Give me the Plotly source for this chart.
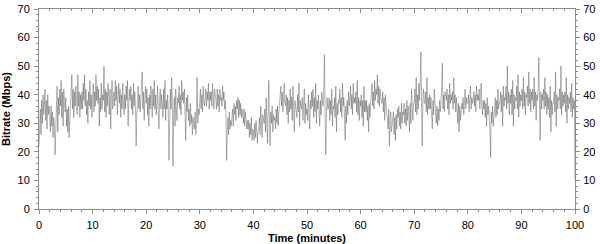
import plotly.graph_objects as go

# Bitrate samples, 8 per minute (0.125-minute spacing)
bitrate_by_minute = [
    [22, 28, 35, 26, 38, 30, 40, 33], [37, 42, 31, 38, 28, 40, 33, 36],
    [33, 27, 36, 29, 34, 25, 32, 30], [19, 29, 38, 43, 27, 39, 33, 42],
    [36, 45, 32, 41, 29, 42, 37, 34], [39, 29, 35, 27, 36, 25, 31, 37],
    [37, 47, 35, 42, 32, 41, 36, 43], [38, 33, 47, 36, 41, 32, 40, 35],
    [41, 35, 44, 38, 47, 36, 42, 33], [38, 30, 41, 36, 45, 35, 40, 32],
    [39, 44, 34, 41, 36, 47, 38, 43], [37, 42, 29, 39, 34, 44, 35, 40],
    [38, 50, 34, 42, 32, 41, 36, 44], [39, 33, 42, 28, 38, 45, 35, 40],
    [41, 36, 45, 38, 43, 33, 40, 44], [37, 42, 32, 40, 35, 44, 38, 33],
    [40, 35, 43, 38, 45, 29, 37, 42], [38, 43, 35, 40, 33, 44, 36, 41],
    [35, 22, 33, 39, 43, 35, 40, 34], [37, 43, 48, 35, 41, 31, 38, 43],
    [37, 42, 33, 39, 29, 40, 35, 43], [38, 32, 42, 36, 45, 35, 40, 33],
    [37, 43, 34, 28, 38, 42, 35, 40], [37, 32, 42, 35, 45, 31, 38, 35],
    [40, 34, 17, 37, 42, 35, 46, 38], [15, 33, 39, 29, 42, 35, 31, 39],
    [37, 43, 35, 40, 33, 45, 38, 41], [37, 42, 33, 24, 39, 34, 40, 31],
    [35, 29, 37, 30, 33, 26, 32, 29], [28, 34, 26, 32, 46, 30, 35, 33],
    [37, 42, 35, 40, 34, 43, 38, 36], [39, 42, 36, 41, 38, 44, 35, 41],
    [38, 41, 36, 44, 39, 35, 42, 38], [38, 35, 42, 36, 40, 34, 42, 38],
    [39, 36, 43, 38, 41, 35, 38, 33], [17, 27, 32, 26, 34, 28, 31, 29],
    [31, 35, 29, 37, 33, 36, 31, 38], [35, 39, 32, 38, 33, 37, 32, 35],
    [33, 30, 35, 29, 34, 31, 28, 31], [28, 31, 25, 30, 26, 32, 24, 28],
    [27, 24, 30, 25, 31, 27, 23, 28], [28, 32, 26, 36, 29, 25, 33, 30],
    [30, 35, 27, 39, 31, 23, 34, 45], [29, 22, 34, 30, 36, 27, 33, 31],
    [32, 28, 35, 30, 36, 29, 34, 37], [38, 43, 36, 41, 34, 40, 44, 37],
    [36, 40, 33, 39, 30, 38, 34, 42], [35, 39, 31, 43, 33, 27, 38, 36],
    [36, 32, 40, 34, 44, 29, 38, 35], [35, 39, 31, 37, 42, 30, 37, 33],
    [35, 31, 40, 34, 28, 38, 35, 41], [36, 42, 32, 39, 34, 44, 30, 38],
    [35, 40, 32, 29, 38, 33, 41, 36], [36, 41, 54, 34, 19, 32, 39, 35],
    [35, 39, 31, 38, 33, 42, 29, 36], [35, 39, 32, 43, 27, 37, 33, 38],
    [37, 42, 34, 39, 32, 44, 36, 39], [33, 24, 36, 30, 38, 33, 41, 36],
    [38, 43, 35, 40, 33, 44, 37, 39], [37, 41, 34, 45, 33, 39, 31, 38],
    [36, 40, 32, 38, 29, 43, 34, 38], [34, 38, 31, 36, 27, 37, 32, 38],
    [39, 44, 36, 41, 35, 45, 38, 42], [40, 47, 37, 43, 36, 42, 39, 38],
    [37, 41, 34, 39, 31, 40, 35, 33], [32, 28, 35, 22, 31, 34, 27, 30],
    [30, 34, 26, 32, 24, 33, 28, 35], [32, 36, 29, 34, 28, 37, 30, 34],
    [33, 37, 30, 35, 29, 38, 31, 36], [33, 27, 37, 30, 42, 34, 31, 37],
    [37, 42, 34, 46, 33, 40, 35, 44], [38, 45, 55, 35, 22, 40, 42, 37],
    [37, 41, 34, 46, 33, 39, 35, 40], [35, 39, 32, 28, 38, 33, 42, 35],
    [33, 30, 36, 29, 35, 31, 38, 34], [38, 42, 51, 35, 40, 34, 41, 38],
    [38, 42, 35, 40, 33, 44, 37, 40], [38, 41, 35, 46, 37, 40, 34, 39],
    [34, 30, 37, 27, 36, 31, 34, 37], [35, 39, 33, 38, 42, 35, 39, 37],
    [37, 40, 34, 39, 43, 35, 39, 37], [38, 41, 36, 40, 34, 43, 38, 40],
    [38, 42, 35, 40, 44, 36, 33, 38], [35, 38, 32, 37, 29, 39, 33, 36],
    [32, 28, 18, 34, 30, 36, 29, 35], [35, 39, 32, 38, 33, 42, 35, 37],
    [37, 41, 34, 40, 29, 43, 36, 39], [38, 43, 35, 50, 37, 41, 33, 40],
    [37, 42, 33, 45, 29, 40, 35, 39], [38, 43, 35, 47, 32, 41, 36, 40],
    [38, 42, 35, 46, 36, 41, 33, 40], [39, 43, 36, 48, 37, 42, 34, 41],
    [38, 42, 35, 46, 36, 41, 31, 40], [38, 42, 53, 36, 24, 41, 35, 40],
    [38, 42, 35, 46, 36, 41, 33, 40], [35, 39, 32, 43, 27, 38, 33, 37],
    [37, 41, 34, 48, 29, 40, 35, 39], [38, 42, 35, 50, 33, 41, 36, 40],
    [37, 41, 34, 46, 30, 40, 35, 39], [37, 41, 34, 44, 32, 39, 35, 38],
]
final_value = [10]

bitrate = [v for chunk in bitrate_by_minute for v in chunk] + final_value
time_min = [i * 0.125 for i in range(len(bitrate))]

y_ticks = [0, 10, 20, 30, 40, 50, 60, 70]
x_ticks = [0, 10, 20, 30, 40, 50, 60, 70, 80, 90, 100]

axis_col = "#8c8c8c"
font = dict(family="Liberation Sans, Arial, sans-serif", size=11, color="#000")

fig = go.Figure()
fig.add_trace(go.Scatter(x=time_min, y=bitrate, mode="lines",
                         line=dict(color="rgba(85,85,85,0.65)", width=0.7),
                         showlegend=False, hoverinfo="skip"))
fig.add_trace(go.Scatter(x=[0], y=[0], xaxis="x2", yaxis="y2", mode="markers",
                         marker=dict(opacity=0), showlegend=False, hoverinfo="skip"))

common = dict(showgrid=False, zeroline=False, showline=True, linecolor=axis_col,
              linewidth=1, tickcolor=axis_col, ticklen=4, tickwidth=1,
              tickfont=font, automargin=False)

fig.update_layout(
    width=600, height=244,
    margin=dict(l=39, r=25, t=9, b=35),
    paper_bgcolor="white", plot_bgcolor="white",
    font=font,
    xaxis=dict(range=[0, 100], tickvals=x_ticks, ticks="outside",
               ticklabelstandoff=2,
               minor=dict(dtick=2, ticks="outside", ticklen=2, tickcolor=axis_col),
               **common),
    xaxis2=dict(range=[0, 100], overlaying="x", side="top", tickvals=x_ticks,
                ticks="inside", showticklabels=False,
                minor=dict(dtick=2, ticks="inside", ticklen=2, tickcolor=axis_col),
                **common),
    yaxis=dict(range=[0, 70], tickvals=y_ticks, ticks="outside",
               ticklabelstandoff=2,
               minor=dict(dtick=2, ticks="outside", ticklen=2, tickcolor=axis_col),
               title=dict(text="<b>Bitrate (Mbps)</b>", font=font, standoff=6),
               **common),
    yaxis2=dict(range=[0, 70], overlaying="y", side="right", tickvals=y_ticks,
                ticks="outside", ticklabelstandoff=1,
                minor=dict(dtick=2, ticks="outside", ticklen=2, tickcolor=axis_col),
                **common),
    annotations=[dict(text="<b>Time (minutes)</b>", xref="paper", yref="paper",
                      x=0.5, y=-0.145, xanchor="center", yanchor="middle",
                      showarrow=False, font=font)],
)

fig.write_html("out.html")
